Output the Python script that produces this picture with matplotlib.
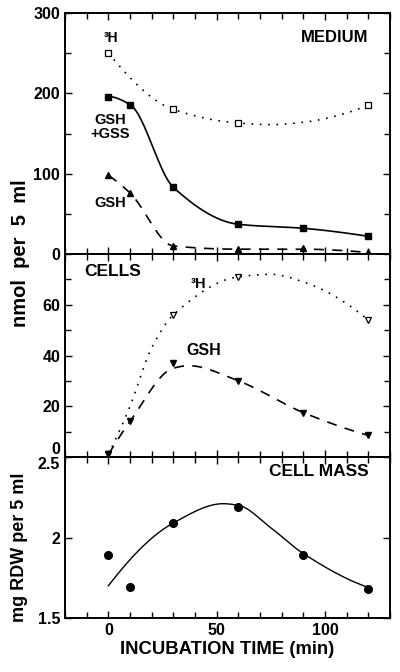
import numpy as np
import matplotlib
matplotlib.use("Agg")
import matplotlib.pyplot as plt
from matplotlib.ticker import MultipleLocator, FixedLocator, FixedFormatter

plt.rcParams['font.family'] = ['Liberation Sans', 'DejaVu Sans']
plt.rcParams['font.weight'] = 'bold'

# ---------------- data ----------------
t = [0, 10, 30, 60, 90, 120]
t_3h = [0, 30, 60, 120]

# MEDIUM panel
med_3h = [250, 181, 163, 185]
med_gsh_gss = [196, 186, 83, 37, 32, 22]
med_gsh = [98, 76, 10, 6, 7, 2]
# smooth-curve knots
med_3h_fit_t = [0, 30, 60, 75, 90, 120]
med_3h_fit_v = [250, 180, 163, 161, 164, 185]
med_gsh_gss_fit_t = [0, 10, 30, 60, 90, 120]
med_gsh_gss_fit_v = [196, 186, 83, 37, 32, 22]
med_gsh_fit_t = [0, 10, 30, 60, 90, 120]
med_gsh_fit_v = [98, 76, 10, 6, 6, 2]

# CELLS panel
cell_3h = [1, 56, 71, 54]
cell_gsh = [1, 14, 37, 30, 17.5, 8.5]
cell_3h_fit_t = [0, 10, 20, 30, 60, 75, 90, 120]
cell_3h_fit_v = [1, 20, 43, 56, 71, 72, 69, 54]
cell_gsh_fit_t = [0, 10, 30, 37, 60, 90, 120]
cell_gsh_fit_v = [1, 14, 35, 36, 30, 17.5, 8.5]

# CELL MASS panel
mass = [1.89, 1.69, 2.09, 2.19, 1.89, 1.68]
mass_fit_t = [0, 30, 53, 60, 75, 90, 120]
mass_fit_v = [1.70, 2.09, 2.21, 2.20, 2.06, 1.90, 1.69]


def pchip(x, y, n=300):
    x = np.asarray(x, float); y = np.asarray(y, float)
    h = np.diff(x); dl = np.diff(y) / h
    N = len(x); d = np.zeros(N)
    for k in range(1, N - 1):
        if dl[k - 1] * dl[k] > 0:
            w1 = 2 * h[k] + h[k - 1]; w2 = h[k] + 2 * h[k - 1]
            d[k] = (w1 + w2) / (w1 / dl[k - 1] + w2 / dl[k])
    def end(h0, h1, d0, d1):
        v = ((2 * h0 + h1) * d0 - h0 * d1) / (h0 + h1)
        if np.sign(v) != np.sign(d0):
            v = 0
        elif np.sign(d0) != np.sign(d1) and abs(v) > abs(3 * d0):
            v = 3 * d0
        return v
    d[0] = end(h[0], h[1], dl[0], dl[1])
    d[-1] = end(h[-1], h[-2], dl[-1], dl[-2])
    xs = np.linspace(x[0], x[-1], n)
    idx = np.clip(np.searchsorted(x, xs) - 1, 0, N - 2)
    hh = h[idx]; s = (xs - x[idx]) / hh
    h00 = 2 * s**3 - 3 * s**2 + 1; h10 = s**3 - 2 * s**2 + s
    h01 = -2 * s**3 + 3 * s**2; h11 = s**3 - s**2
    ys = h00 * y[idx] + h10 * hh * d[idx] + h01 * y[idx + 1] + h11 * hh * d[idx + 1]
    return xs, ys


fig = plt.figure(figsize=(4, 6.72), dpi=100)
L, W = 65 / 400, 325 / 400
ax1 = fig.add_axes([L, 1 - 254 / 672, W, 241 / 672])
ax2 = fig.add_axes([L, 1 - 457 / 672, W, 203 / 672])
ax3 = fig.add_axes([L, 1 - 618 / 672, W, 161 / 672])

dot = (0, (1, 4))
dash = (0, (6, 5))

# MEDIUM
ax1.plot(*pchip(med_3h_fit_t, med_3h_fit_v), color='k', lw=1.2, ls=dot)
ax1.plot(*pchip(med_gsh_gss_fit_t, med_gsh_gss_fit_v), color='k', lw=1.2)
ax1.plot(*pchip(med_gsh_fit_t, med_gsh_fit_v), color='k', lw=1.2, ls=dash)
ax1.plot(t_3h, med_3h, ls='none', marker='s', ms=5, mfc='white', mec='k', mew=0.9)
ax1.plot(t, med_gsh_gss, ls='none', marker='s', ms=5, color='k')
ax1.plot(t, med_gsh, ls='none', marker='^', ms=5, color='k')
ax1.set_ylim(0, 300)
ax1.yaxis.set_major_locator(FixedLocator([0, 100, 200, 300]))
ax1.yaxis.set_minor_locator(MultipleLocator(50))
ax1.text(120, 269, 'MEDIUM', ha='right', va='center', fontsize=12, fontweight='bold')
ax1.text(-2, 269, '³H', ha='left', va='center', fontsize=10, fontweight='bold')
ax1.text(1, 158, 'GSH\n+GSS', ha='center', va='center', fontsize=10.5, fontweight='bold', linespacing=1.0)
ax1.text(1, 63, 'GSH', ha='center', va='center', fontsize=10.5, fontweight='bold')

# CELLS
ax2.plot(*pchip(cell_3h_fit_t, cell_3h_fit_v), color='k', lw=1.2, ls=dot)
ax2.plot(*pchip(cell_gsh_fit_t, cell_gsh_fit_v), color='k', lw=1.2, ls=dash)
ax2.plot(t_3h, cell_3h, ls='none', marker='v', ms=5, mfc='white', mec='k', mew=0.9)
ax2.plot(t, cell_gsh, ls='none', marker='v', ms=5, color='k')
ax2.set_ylim(0, 80)
ax2.yaxis.set_major_locator(FixedLocator([0, 20, 40, 60]))
ax2.yaxis.set_minor_locator(MultipleLocator(10))
ax2.text(-11, 73, 'CELLS', ha='left', va='center', fontsize=12.5, fontweight='bold')
ax2.text(38, 68, '³H', ha='left', va='center', fontsize=10.5, fontweight='bold')
ax2.text(36, 42, 'GSH', ha='left', va='center', fontsize=11.5, fontweight='bold')

# CELL MASS
ax3.plot(*pchip(mass_fit_t, mass_fit_v), color='k', lw=1.0)
ax3.plot(t, mass, ls='none', marker='o', ms=5.5, color='k')
ax3.set_ylim(1.5, 2.5)
ax3.yaxis.set_major_locator(FixedLocator([1.5, 2.0, 2.5]))
ax3.yaxis.set_major_formatter(FixedFormatter(['1.5', '2', '2.5']))
ax3.text(120, 2.41, 'CELL MASS', ha='right', va='center', fontsize=12.5, fontweight='bold')
ax3.set_xlabel('INCUBATION TIME (min)', fontsize=13.3, fontweight='bold', labelpad=2)

for ax in (ax1, ax2, ax3):
    ax.set_xlim(-20, 130)
    ax.xaxis.set_major_locator(FixedLocator([0, 50, 100]))
    ax.xaxis.set_minor_locator(MultipleLocator(10))
    ax.tick_params(which='both', direction='in', top=True, right=True, width=1)
    ax.tick_params(which='major', length=5, labelsize=11.5)
    ax.tick_params(which='minor', length=4)
    for s in ax.spines.values():
        s.set_linewidth(1.4)
    for lab in ax.get_xticklabels() + ax.get_yticklabels():
        lab.set_fontweight('bold')
for ax in (ax1, ax2):
    ax.tick_params(labelbottom=False)

fig.canvas.draw()
# nudge the crowded labels where panels meet
ax2.get_yticklabels()[0].set_verticalalignment('bottom')
ax3.get_yticklabels()[-1].set_verticalalignment('top')

fig.text(0.0525, 1 - 253 / 672, 'nmol  per  5  ml', rotation=90, ha='center', va='center',
         fontsize=14.5, fontweight='bold')
fig.text(0.05, 1 - 547 / 672, 'mg RDW per 5 ml', rotation=90, ha='center', va='center',
         fontsize=13, fontweight='bold')

fig.savefig('out.png', dpi=100)
